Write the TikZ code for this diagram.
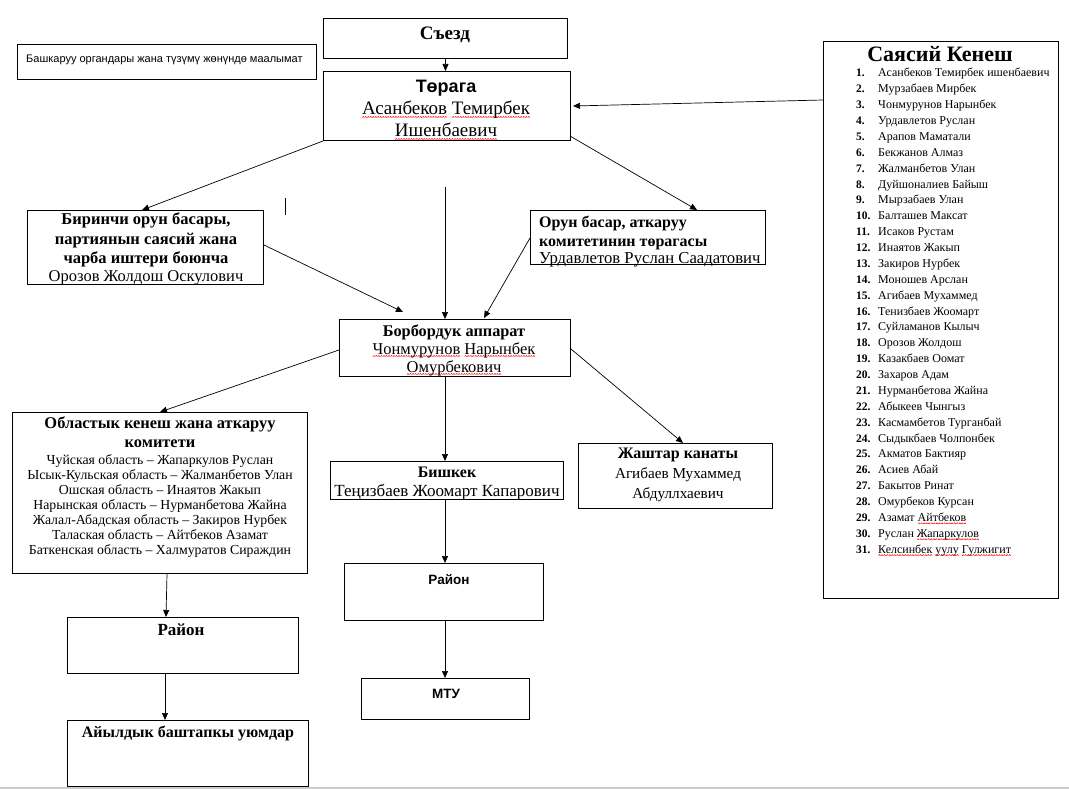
\documentclass[tikz,border=0pt]{standalone}
\usepackage{fontspec}
\setmainfont{Liberation Serif}
\setsansfont{Liberation Sans}
\usetikzlibrary{arrows.meta,calc}
\newcommand\bx[5]{\node[box,anchor=north west,minimum width={#4pt-#2pt},minimum height={#5pt-#3pt}] (#1) at (#2,#3) {};}
\newcommand\fs[1]{\fontsize{#1}{#1}\selectfont}
\newsavebox\wavebox
\newsavebox\wordbox
\newcommand\rw[1]{\sbox\wordbox{#1}\rlap{\lower2.8pt\hbox to \wd\wordbox{\xleaders\copy\wavebox\hfil}}\usebox\wordbox}
\begin{document}
\sbox\wavebox{\pgfpicture
  \pgfsetstrokecolor{red}\pgfsetlinewidth{0.5pt}
  \pgfpathmoveto{\pgfpoint{0pt}{0pt}}\pgfpathlineto{\pgfpoint{1pt}{1.1pt}}\pgfpathlineto{\pgfpoint{2pt}{0pt}}
  \pgfusepath{stroke}\endpgfpicture}
\begin{tikzpicture}[x=1pt,y=-1pt,
  box/.style={draw,line width=1pt,inner sep=0pt},
  arr/.style={line width=0.7pt,-{Triangle[length=7pt,width=6pt]}},
  ln/.style={line width=0.9pt},
  tx/.style={inner sep=0pt,anchor=base},
  txl/.style={inner sep=0pt,anchor=base west}]
\useasboundingbox (0,0) rectangle (1069,789);
% boxes
\bx{info}{17}{44}{316}{79}
\bx{sezd}{323}{18}{567}{58}
\bx{torag}{323}{71}{570}{140}
\bx{kenesh}{823}{41}{1058}{598}
\bx{bir}{27}{210}{263}{284}
\bx{orun}{530}{210}{765}{264}
\bx{borb}{339}{319}{570}{376}
\bx{obl}{12}{412}{307}{573}
\bx{bish}{330}{461}{563}{499}
\bx{jash}{578}{443}{772}{508}
\bx{rayR}{344}{563}{543}{620}
\bx{mtu}{361}{678}{529}{719}
\bx{rayL}{67}{617}{298}{673}
\bx{ayil}{67}{720}{308}{786}
% texts
\node[txl,font=\sffamily\fs{11}] (t-info) at (26,63) {Башкаруу органдары жана түзүмү жөнүндө маалымат};
\node[tx,font=\bfseries\fs{19}] (t-sezd) at (445,40) {Съезд};
\node[tx,font=\sffamily\bfseries\fs{18}] (t-torag1) at (446,93) {Төрага};
\node[tx,font=\fs{19}] (t-torag2) at (446,115) {\rw{Асанбеков} \rw{Темирбек}};
\node[tx,font=\fs{19}] (t-torag3) at (446,137) {\rw{Ишенбаевич}};
% Sayasiy Kenesh
\node[tx,font=\bfseries\fs{22}] (t-ken) at (940,62) {Саясий Кенеш};
\foreach \n/\nm [count=\i from 0] in {1/Асанбеков Темирбек ишенбаевич,2/Мурзабаев Мирбек,3/Чонмурунов Нарынбек,4/Урдавлетов Руслан,5/Арапов Маматали,6/Бекжанов Алмаз,7/Жалманбетов Улан,8/Дуйшоналиев Байыш,9/Мырзабаев Улан,10/Балташев Максат,11/Исаков Рустам,12/Инаятов Жакып,13/Закиров Нурбек,14/Моношев Арслан,15/Агибаев Мухаммед,16/Тенизбаев Жоомарт,17/Суйламанов Кылыч,18/Орозов Жолдош,19/Казакбаев Оомат,20/Захаров Адам,21/Нурманбетова Жайна,22/Абыкеев Чынгыз,23/Касмамбетов Турганбай,24/Сыдыкбаев Чолпонбек,25/Акматов Бактияр,26/Асиев Абай,27/Бакытов Ринат,28/Омурбеков Курсан,29/{Азамат \rw{Айтбеков}},30/{Руслан \rw{Жапаркулов}},31/{\rw{Келсинбек} \rw{уулу} \rw{Гулжигит}}}{
  \node[txl,font=\bfseries\fs{11.5}] (kn\n) at (856,{77+\i*15.87}) {\n.};
  \node[txl,font=\fs{12}] (km\n) at (878,{77+\i*15.87}) {\nm};
}
% Birinchi
\node[tx,font=\bfseries\fs{16.5}] (t-bir1) at (146,225) {Биринчи орун басары,};
\node[tx,font=\bfseries\fs{16.5}] (t-bir2) at (146,244) {партиянын саясий жана};
\node[tx,font=\bfseries\fs{16.5}] (t-bir3) at (146,263) {чарба иштери боюнча};
\node[tx,font=\fs{16.5}] (t-bir4) at (146,281) {Орозов Жолдош Оскулович};
% Orun basar
\node[txl,font=\bfseries\fs{16}] (t-orun1) at (539,227) {Орун басар, аткаруу};
\node[txl,font=\bfseries\fs{16}] (t-orun2) at (539,246) {комитетинин төрагасы};
\node[txl,font=\fs{16.7}] (t-orun3) at (539,263) {Урдавлетов Руслан Саадатович};
% Borbordук
\node[tx,font=\bfseries\fs{16.3}] (t-borb1) at (454,336) {Борбордук аппарат};
\node[tx,font=\fs{16.5}] (t-borb2) at (454,354) {\rw{Чонмурунов} \rw{Нарынбек}};
\node[tx,font=\fs{16.5}] (t-borb3) at (454,372) {\rw{Омурбекович}};
% Oblast
\node[tx,font=\bfseries\fs{16.4}] (t-obl1) at (160,428) {Областык кенеш жана аткаруу};
\node[tx,font=\bfseries\fs{16.4}] (t-obl2) at (160,447) {комитети};
\foreach \s [count=\i from 0] in {Чуйская область – Жапаркулов Руслан,Ысык-Кульская область – Жалманбетов Улан,Ошская область – Инаятов Жакып,Нарынская область – Нурманбетова Жайна,Жалал-Абадская область – Закиров Нурбек,Талаская область – Айтбеков Азамат,Баткенская область – Халмуратов Сираждин}{
  \node[tx,font=\fs{13.8}] (ol\i) at (160,{464+\i*15.1}) {\s};
}
% Bishkek
\node[tx,font=\bfseries\fs{16}] (t-bish1) at (447,477) {Бишкек};
\node[tx,font=\fs{17}] (t-bish2) at (447,496) {Теңизбаев Жоомарт Капарович};
% Jashtar
\node[tx,font=\bfseries\fs{16}] (t-jash1) at (678,458) {Жаштар канаты};
\node[tx,font=\fs{15.2}] (t-jash2) at (678,478) {Агибаев Мухаммед};
\node[tx,font=\fs{15.2}] (t-jash3) at (678,498) {Абдуллхаевич};
% Rayon etc
\node[tx,font=\sffamily\bfseries\fs{13.5}] (t-rayR) at (449,584) {Район};
\node[tx,font=\sffamily\bfseries\fs{13.5}] (t-mtu) at (446,698) {МТУ};
\node[tx,font=\bfseries\fs{17}] (t-rayL) at (181,635) {Район};
\node[tx,font=\bfseries\fs{16}] (t-ayil) at (188,737) {Айылдык баштапкы уюмдар};
% connectors
\coordinate (vtop) at (445,187);
\coordinate (tick1) at (285,198);
\coordinate (tick2) at (285,215);
\coordinate (bl) at (0,788);
\coordinate (br) at (1069,788);
\draw[line width=1.5pt,black!20] (bl) -- (br);
\draw[arr] (sezd.south) -- (sezd.south |- torag.north);
\draw[arr] ($(kenesh.north west)+(0,59)$) -- ($(torag.north east)+(2,35)$);
\draw[arr] (torag.south west) -- ($(bir.north west)+(115,0)$);
\draw[arr] ($(torag.south east)+(-1,-5)$) -- ($(orun.north west)+(167,0)$);
\draw[arr] (vtop) -- ($(borb.north west)+(106,0)$);
\draw[ln] (tick1) -- (tick2);
\draw[arr] ($(bir.north east)+(0,35)$) -- ($(borb.north west)+(64,-7)$);
\draw[arr] ($(orun.north west)+(0,28)$) -- ($(borb.north west)+(145,-1)$);
\draw[arr] ($(borb.north west)+(0,31)$) -- ($(obl.north west)+(148,0)$);
\draw[arr] ($(borb.south west)+(106,0)$) -- ($(bish.north west)+(115,0)$);
\draw[arr] ($(borb.north east)+(0,30)$) -- ($(jash.north west)+(105,0)$);
\draw[arr] ($(obl.south west)+(155,0)$) -- ($(rayL.north west)+(99,0)$);
\draw[arr] ($(bish.south west)+(115,0)$) -- ($(rayR.north west)+(101,0)$);
\draw[arr] ($(rayR.south west)+(101,0)$) -- ($(mtu.north west)+(84,0)$);
\draw[arr] ($(rayL.south west)+(98,0)$) -- ($(ayil.north west)+(98,0)$);
\end{tikzpicture}
\end{document}
